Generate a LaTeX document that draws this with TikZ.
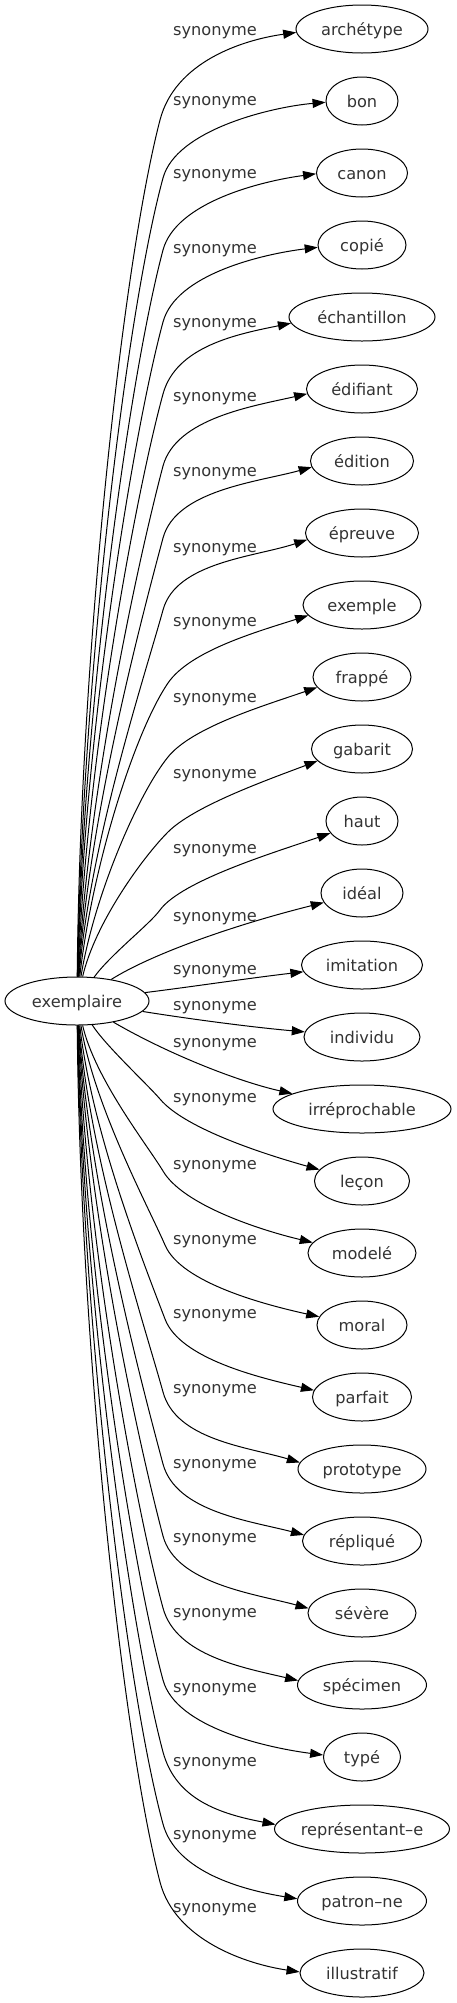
\documentclass[tikz,border=0pt]{standalone}
\usepackage{fontspec}
\setmainfont{DejaVu Sans}
\usepackage{tikz}
\usetikzlibrary{arrows.meta, shapes.geometric}

\begin{document}
\begin{tikzpicture}[
    x=1pt, y=-1pt,
    % Define specific styles to match the drawing
    word/.style={
        ellipse,
        draw=black,
        line width=1pt,
        text=black!80,
        font=\fontsize{16.2}{19}\selectfont,
        inner sep=0pt,
        minimum height=48pt,
        minimum width=#1,
        text height=13pt,
        text depth=1pt
    },
    link/.style={
        draw=black,
        line width=1pt,
        -{Triangle[length=13pt, width=9pt]}
    },
    link_label/.style={
        font=\fontsize{16.2}{19}\selectfont,
        text=black!80,
        inner sep=0pt
    }
]
    \useasboundingbox (0,0) rectangle (456,2003);

    % --- Nodes ---
    % Head word
    \node[word=144pt] (exemplaire) at (77,1001) {exemplaire};

    % Synonyms, top to bottom
    \node[word=132pt] (archetype) at (362,29) {archétype};
    \node[word=72pt] (bon) at (362,101) {bon};
    \node[word=91pt] (canon) at (362,173) {canon};
    \node[word=88pt] (copie) at (362,245) {copié};
    \node[word=146pt] (echantillon) at (362,317) {échantillon};
    \node[word=111pt] (edifiant) at (362,389) {édifiant};
    \node[word=103pt] (edition) at (362,461) {édition};
    \node[word=113pt] (epreuve) at (362,533) {épreuve};
    \node[word=118pt] (exemple) at (362,605) {exemple};
    \node[word=98pt] (frappe) at (362,677) {frappé};
    \node[word=101pt] (gabarit) at (362,749) {gabarit};
    \node[word=72pt] (haut) at (362,821) {haut};
    \node[word=82pt] (ideal) at (362,893) {idéal};
    \node[word=121pt] (imitation) at (362,965) {imitation};
    \node[word=116pt] (individu) at (362,1037) {individu};
    \node[word=178pt] (irreprochable) at (362,1109) {irréprochable};
    \node[word=95pt] (lecon) at (362,1181) {leçon};
    \node[word=108pt] (modele) at (362,1253) {modelé};
    \node[word=90pt] (moral) at (362,1325) {moral};
    \node[word=99pt] (parfait) at (362,1397) {parfait};
    \node[word=128pt] (prototype) at (362,1469) {prototype};
    \node[word=119pt] (replique) at (362,1541) {répliqué};
    \node[word=108pt] (severe) at (362,1613) {sévère};
    \node[word=129pt] (specimen) at (362,1685) {spécimen};
    \node[word=77pt] (type) at (362,1757) {typé};
    \node[word=175pt] (representante) at (362,1829) {représentant–e};
    \node[word=129pt] (patronne) at (362,1901) {patron–ne};
    \node[word=124pt] (illustratif) at (362,1973) {illustratif};

    % --- Edges and Labels ---

    % Upper fan
    \draw[link] (exemplaire) .. controls (80,660) and (122,266) .. (160,120) .. controls (175,62) and (242,40) .. (archetype.183);
    \node[link_label] (l_archetype) at (215,33) {synonyme};
    \draw[link] (exemplaire) .. controls (82,681) and (126,314) .. (163,178) .. controls (176,130) and (271,107) .. (bon.182);
    \node[link_label] (l_bon) at (215,103) {synonyme};
    \draw[link] (exemplaire) .. controls (83,708) and (130,374) .. (163,250) .. controls (176,202) and (262,181) .. (canon.181);
    \node[link_label] (l_canon) at (215,176) {synonyme};
    \draw[link] (exemplaire) .. controls (84,735) and (133,433) .. (163,322) .. controls (176,274) and (263,254) .. (copie.183);
    \node[link_label] (l_copie) at (215,251) {synonyme};
    \draw[link] (exemplaire) .. controls (86,761) and (136,493) .. (163,394) .. controls (176,346) and (238,334) .. (echantillon.185);
    \node[link_label] (l_echantillon) at (215,325) {synonyme};
    \draw[link] (exemplaire) .. controls (88,788) and (140,553) .. (163,466) .. controls (176,418) and (254,406) .. (edifiant.185);
    \node[link_label] (l_edifiant) at (215,399) {synonyme};
    \draw[link] (exemplaire) .. controls (89,815) and (143,613) .. (163,538) .. controls (176,490) and (258,482) .. (edition.187);
    \node[link_label] (l_edition) at (215,474) {synonyme};
    \draw[link] (exemplaire) .. controls (90,841) and (146,672) .. (163,610) .. controls (176,562) and (255,557) .. (epreuve.187);
    \node[link_label] (l_epreuve) at (215,550) {synonyme};
    \draw[link] (exemplaire) .. controls (92,868) and (134,733) .. (168,683) .. controls (190,651) and (256,632) .. (exemple.191);
    \node[link_label] (l_exemple) at (215,624) {synonyme};
    \draw[link] (exemplaire) .. controls (94,896) and (138,794) .. (168,757) .. controls (192,727) and (266,705) .. (frappe.193);
    \node[link_label] (l_frappe) at (215,700) {synonyme};
    \draw[link] (exemplaire) .. controls (95,923) and (143,857) .. (168,832) .. controls (194,806) and (267,780) .. (gabarit.195);
    \node[link_label] (l_gabarit) at (215,776) {synonyme};
    \draw[link] (exemplaire) .. controls (110,955) and (150,924) .. (160,910) .. controls (182,880) and (279,851) .. (haut.201);
    \node[link_label] (l_haut) at (215,851) {synonyme};

    % Middle, nearly straight
    \draw[link] (exemplaire) .. controls (150,955) and (230,926) .. (ideal);
    \node[link_label] (l_ideal) at (215,919) {synonyme};
    \draw[link] (exemplaire) .. controls (190,987) and (250,978) .. (imitation);
    \node[link_label] (l_imitation) at (215,972) {synonyme};
    \draw[link] (exemplaire) .. controls (190,1019) and (250,1027) .. (individu);
    \node[link_label] (l_individu) at (215,1008) {synonyme};
    \draw[link] (exemplaire) .. controls (170,1055) and (240,1082) .. (irreprochable);
    \node[link_label] (l_irreprochable) at (215,1045) {synonyme};

    % Lower fan
    \draw[link] (exemplaire) .. controls (105,1045) and (147,1084) .. (160,1099) .. controls (185,1129) and (267,1155) .. (lecon.165);
    \node[link_label] (l_lecon) at (215,1100) {synonyme};
    \draw[link] (exemplaire) .. controls (95,1079) and (148,1146) .. (163,1171) .. controls (183,1205) and (260,1230) .. (modele.168);
    \node[link_label] (l_modele) at (215,1167) {synonyme};
    \draw[link] (exemplaire) .. controls (94,1106) and (149,1208) .. (165,1245) .. controls (181,1283) and (266,1305) .. (moral.169);
    \node[link_label] (l_moral) at (215,1242) {synonyme};
    \draw[link] (exemplaire) .. controls (92,1134) and (146,1269) .. (165,1319) .. controls (180,1359) and (261,1378) .. (parfait.172);
    \node[link_label] (l_parfait) at (215,1316) {synonyme};
    \draw[link] (exemplaire) .. controls (90,1161) and (146,1330) .. (163,1392) .. controls (176,1440) and (248,1447) .. (prototype.174);
    \node[link_label] (l_prototype) at (215,1391) {synonyme};
    \draw[link] (exemplaire) .. controls (89,1187) and (143,1389) .. (163,1464) .. controls (176,1512) and (251,1521) .. (replique.174);
    \node[link_label] (l_replique) at (215,1466) {synonyme};
    \draw[link] (exemplaire) .. controls (88,1214) and (140,1449) .. (163,1536) .. controls (176,1584) and (256,1594) .. (severe.175);
    \node[link_label] (l_severe) at (215,1540) {synonyme};
    \draw[link] (exemplaire) .. controls (86,1241) and (136,1509) .. (163,1608) .. controls (176,1656) and (245,1668) .. (specimen.176);
    \node[link_label] (l_specimen) at (215,1615) {synonyme};
    \draw[link] (exemplaire) .. controls (84,1267) and (133,1569) .. (163,1680) .. controls (176,1728) and (269,1748) .. (type.177);
    \node[link_label] (l_type) at (215,1690) {synonyme};
    \draw[link] (exemplaire) .. controls (83,1294) and (130,1628) .. (163,1752) .. controls (176,1800) and (221,1814) .. (representante.177);
    \node[link_label] (l_representante) at (215,1764) {synonyme};
    \draw[link] (exemplaire) .. controls (82,1321) and (126,1688) .. (163,1824) .. controls (176,1872) and (243,1890) .. (patronne.178);
    \node[link_label] (l_patronne) at (215,1837) {synonyme};
    \draw[link] (exemplaire) .. controls (80,1342) and (122,1736) .. (160,1882) .. controls (175,1940) and (246,1964) .. (illustratif.179);
    \node[link_label] (l_illustratif) at (215,1910) {synonyme};

\end{tikzpicture}
\end{document}
